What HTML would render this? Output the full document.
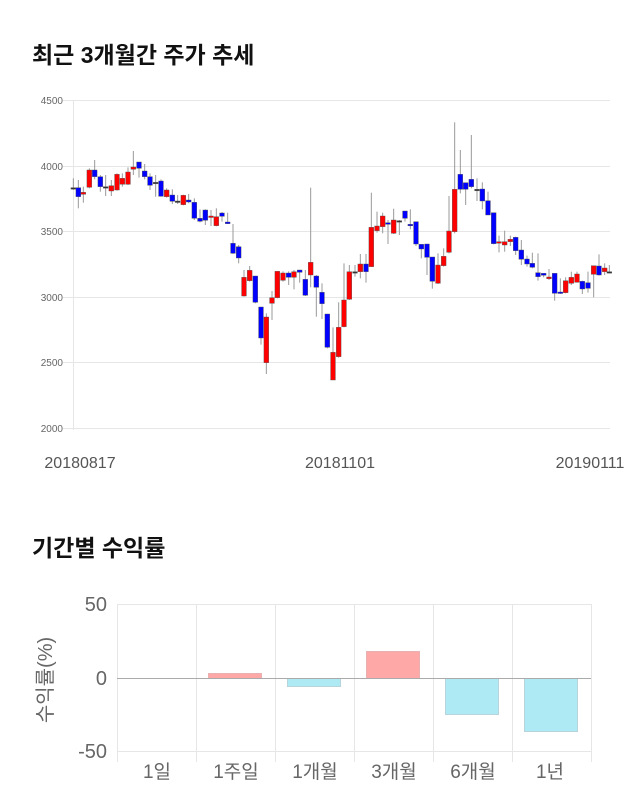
<!DOCTYPE html>
<html><head><meta charset="utf-8"><style>
body{margin:0;background:#fff;width:640px;height:810px;overflow:hidden;font-family:"Liberation Sans","Noto Sans CJK KR",sans-serif}
.t{position:absolute;left:32px;font-weight:bold;font-size:23px;color:#111;font-family:"Liberation Sans","Noto Sans CJK KR",sans-serif}
</style></head><body>
<div class="t" style="top:36px">최근 3개월간 주가 추세</div>
<div class="t" style="top:529px">기간별 수익률</div>
<svg id="s" width="640" height="810" style="position:absolute;left:0;top:0" font-family="Liberation Sans, Noto Sans CJK KR, sans-serif">
<g stroke="#e6e6e6" stroke-width="1">
<line x1="63" x2="610" y1="100.5" y2="100.5"/><line x1="63" x2="610" y1="166.5" y2="166.5"/><line x1="63" x2="610" y1="231.5" y2="231.5"/><line x1="63" x2="610" y1="297.5" y2="297.5"/><line x1="63" x2="610" y1="362.5" y2="362.5"/><line x1="63" x2="610" y1="428.5" y2="428.5"/>
<line x1="73.5" x2="73.5" y1="100" y2="430"/>
</g>
<g font-size="10" fill="#666" text-anchor="end">
<text x="63" y="104">4500</text><text x="63" y="170">4000</text><text x="63" y="235">3500</text><text x="63" y="301">3000</text><text x="63" y="366">2500</text><text x="63" y="432">2000</text>
</g>
<g font-size="16" fill="#555" text-anchor="middle">
<text x="80" y="468">20180817</text><text x="340" y="468">20181101</text><text x="590" y="468">20190111</text>
</g>
<g id="c"></g>
<g stroke="#e6e6e6">
<line x1="117" x2="591" y1="604.5" y2="604.5"/><line x1="117" x2="591" y1="751.5" y2="751.5"/>
<line x1="117.5" x2="117.5" y1="604" y2="762"/><line x1="196.5" x2="196.5" y1="604" y2="762"/><line x1="275.5" x2="275.5" y1="604" y2="762"/><line x1="354.5" x2="354.5" y1="604" y2="762"/><line x1="433.5" x2="433.5" y1="604" y2="762"/><line x1="512.5" x2="512.5" y1="604" y2="762"/><line x1="591.5" x2="591.5" y1="604" y2="762"/>
</g>
<g stroke-width="1">
<rect x="208.5" y="673.5" width="53" height="5" fill="#ffa8a8" stroke="#e8b0b0"/>
<rect x="287.5" y="678.5" width="53" height="8" fill="#aeeaf4" stroke="#b8d4da"/>
<rect x="366.5" y="651.5" width="53" height="27" fill="#ffa8a8" stroke="#e8b0b0"/>
<rect x="445.5" y="678.5" width="53" height="36" fill="#aeeaf4" stroke="#b8d4da"/>
<rect x="524.5" y="678.5" width="53" height="53" fill="#aeeaf4" stroke="#b8d4da"/>
</g>
<line x1="117" x2="591" y1="678.5" y2="678.5" stroke="#aaa"/>
<g font-size="20" fill="#666" text-anchor="end">
<text x="107" y="611">50</text><text x="107" y="685">0</text><text x="107" y="758">-50</text>
</g>
<g font-size="19" fill="#666" text-anchor="middle">
<text x="157" y="778">1일</text><text x="236" y="778">1주일</text><text x="315" y="778">1개월</text><text x="394" y="778">3개월</text><text x="473" y="778">6개월</text><text x="550" y="778">1년</text>
</g>
<text transform="translate(52,680) rotate(-90)" font-size="20" fill="#666" text-anchor="middle">수익률(%)</text>
</svg>
<script>
var A=[[40,'d',293,293,265,300],[55,'b',293,320,270,355],[70,'r',307,313,290,338],[88,'r',240,292,235,295],[104,'b',240,260,210,268],[121,'b',260,290,255,305],[137,'d',290,290,255,318],[154,'r',287,303,270,318],[171,'r',253,300,250,302],[187,'r',265,283,250,290],[204,'r',246,283,232,285],[220,'r',231,238,183,255],[237,'b',216,235,216,263],[254,'b',243,260,222,268],[270,'b',260,286,250,300],[287,'d',277,277,255,320],[303,'b',273,319,268,320],[320,'r',300,320,295,323],[337,'b',315,334,298,342],[353,'d',333,333,315,342],[370,'r',316,344,314,346],[386,'b',330,336,312,340],[403,'b',337,385,325,390],[420,'b',385,394,358,397],[436,'b',360,391,358,405],[453,'r',378,382,360,408],[469,'r',380,407,355,409],[486,'b',369,379,366,395],[503,'b',396,401,368,402],[519,'b',460,490,402,492],[536,'b',470,504,465,520],[552,'r',562,618,540,620],[569,'r',541,572,528,575],[586,'b',558,637,558,640],[603,'b',651,744,651,764],[619,'r',681,818,670,852],[636,'r',623,640,603,690],[652,'r',544,623,544,625],[669,'r',549,571,544,575],[686,'b',549,562,544,585],[702,'r',545,562,540,598],[719,'b',540,547,540,578],[736,'b',568,616,540,618],[752,'r',517,555,293,592],[769,'b',558,592,555,680],[786,'b',607,641,580,687],[802,'b',672,772,672,775],[819,'r',787,870,712,870],[836,'r',712,800,637,803]];
var B=[[42,'r',630,710,520,712],[58,'r',545,628,525,630],[75,'d',545,545,525,560],[91,'r',522,545,492,565],[108,'b',522,545,492,578],[124,'r',412,530,308,530],[141,'r',408,422,365,428],[158,'r',378,410,368,430],[174,'b',398,403,390,462],[191,'r',390,430,356,432],[208,'d',392,392,390,435],[225,'b',363,385,363,395],[241,'b',403,407,358,418],[258,'b',395,462,395,468],[274,'b',463,477,462,505],[291,'b',462,502,462,555],[307,'b',501,574,501,596],[324,'r',525,580,490,582],[341,'r',499,527,475,530],[357,'r',423,487,318,490],[374,'r',298,425,97,430],[391,'b',253,298,180,310],[407,'b',278,298,278,345],[424,'b',268,290,135,295],[441,'d',298,298,265,333],[457,'b',297,333,277,358],[474,'b',332,375,305,375],[491,'b',368,461,368,463],[507,'r',455,458,437,487],[524,'r',455,465,422,485],[541,'r',448,455,437,468],[557,'b',442,482,440,495],[574,'b',480,508,450,525],[591,'b',507,522,497,530],[607,'b',520,532,488,535],[624,'b',548,560,490,572],[641,'b',550,556,549,562],[657,'r',561,566,537,570],[674,'b',550,610,550,632],[691,'b',606,610,565,612],[707,'r',572,608,562,610],[724,'r',562,580,545,585],[741,'r',552,577,545,578],[757,'b',574,597,572,612],[774,'b',578,595,545,608],[791,'r',527,553,527,622],[807,'b',528,555,493,557],[824,'r',534,545,520,555],[838,'d',545,545,525,550]];
var h='';
function add(L,ox){L.forEach(function(c){var x=ox+c[0]/3,t=90+c[2]/3,b=90+c[3]/3,wt=90+c[4]/3,wb=90+c[5]/3;
h+='<line x1="'+x+'" x2="'+x+'" y1="'+wt+'" y2="'+wb+'" stroke="#999"/>';
var col=c[1]=='r'?'#ff0000':c[1]=='b'?'#0000ff':'#333';var hh=Math.max(b-t,1.5);
h+='<rect x="'+(x-2.4)+'" y="'+t+'" width="4.8" height="'+hh+'" fill="'+col+'" stroke="#555" stroke-width="0.4"/>';});}
add(A,60);add(B,330);
document.getElementById('c').innerHTML=h;
</script>
</body></html>
